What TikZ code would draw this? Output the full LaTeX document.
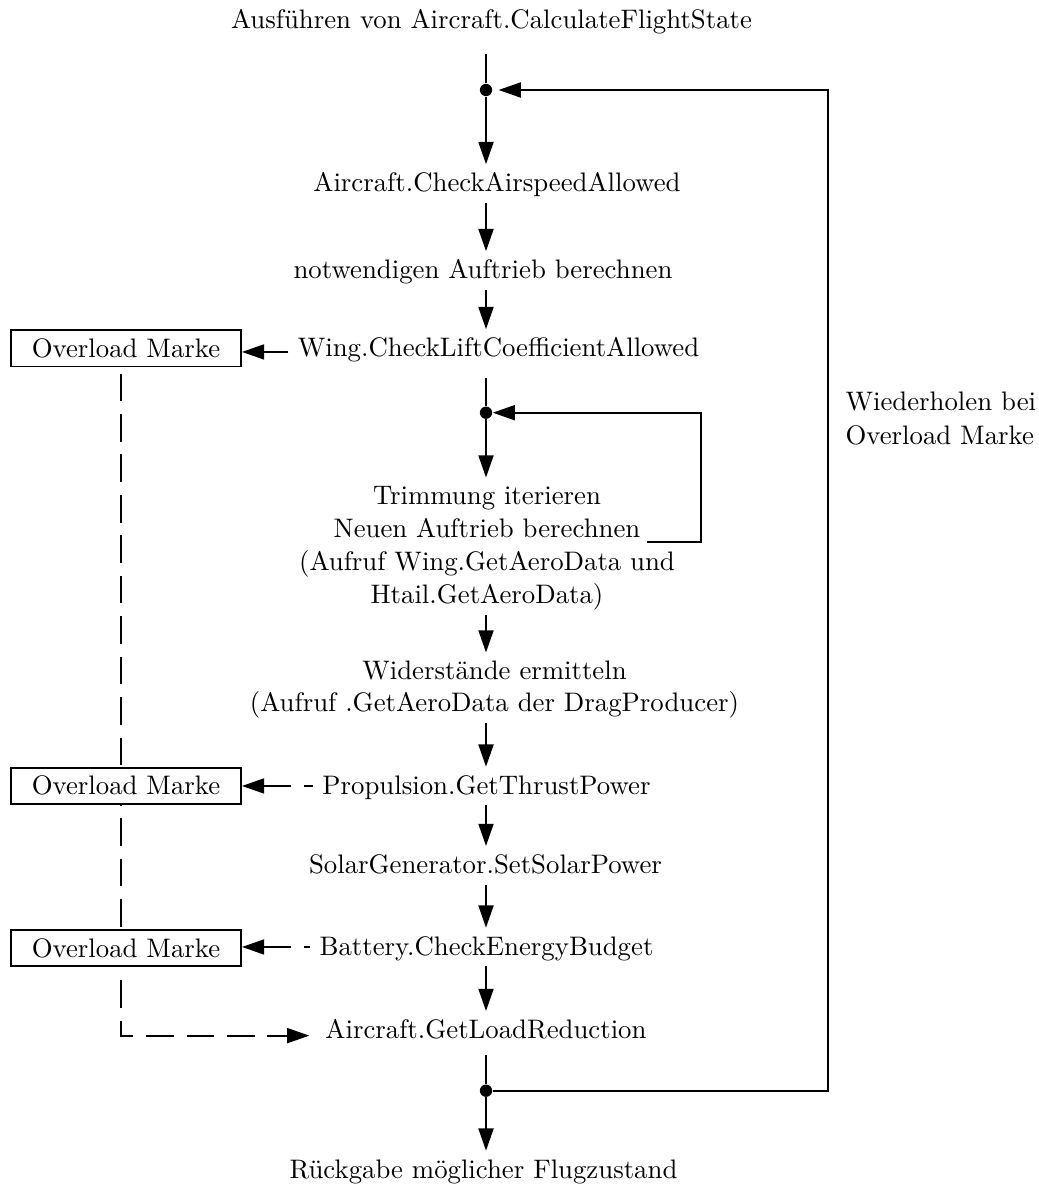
\documentclass[tikz,border=0pt]{standalone}
\usepackage{fontspec}
\usetikzlibrary{arrows.meta,backgrounds}
\newcommand\myStrutA{\rule{0pt}{10pt}}
\newcommand\myStrutB{\rule[-4pt]{0pt}{4pt}}
\begin{document}
\begin{tikzpicture}[x=0.3734pt,y=-0.3734pt,
  lw/.style={line width=0.7pt},
  txt/.style={inner xsep=3.33pt,inner ysep=0pt,text height=10pt,text depth=4pt,anchor=base},
  mtxt/.style={inner xsep=3.33pt,inner ysep=0pt,align=center,anchor=north},
  markbox/.style={draw,lw,fill=white,minimum width=85.9pt,minimum height=13.6pt,inner sep=0pt},
  dotnode/.style={circle,fill,inner sep=0pt,minimum size=4.6pt},
  tip/.style={Triangle[length=8.3pt,width=5.6pt]},
  flow/.style={lw,-{Triangle[length=8.3pt,width=5.6pt]}},
  plain/.style={lw},
  dasharr/.style={lw,dash pattern=on 10.3pt off 4.8pt,{Triangle[length=8.3pt,width=5.6pt]}-},
  dashline/.style={lw,dash pattern=on 10.3pt off 4.8pt,dash phase=12.8pt,-{Triangle[length=8.3pt,width=5.6pt]}},
]
\useasboundingbox (0,0) rectangle (1038,1185);
\coordinate (ax) at (486,0);
\coordinate (rx) at (828,0);
\coordinate (ix) at (701,0);

\node[txt] (title) at (491.5,29) {Ausführen von Aircraft.CalculateFlightState};
\node[dotnode] (d1) at (486,90) {};
\node[txt] (chk) at (497,191.5) {Aircraft.CheckAirspeedAllowed};
\node[txt] (notw) at (483,278.5) {notwendigen Auftrieb berechnen};
\node[txt] (wing) at (498.5,356.5) {Wing.CheckLiftCoefficientAllowed};
\node[markbox] (m1) at (126,348.3) {Overload Marke};
\node[dotnode] (d2) at (486,412.7) {};
\node[mtxt] (trim) at (487,477.5) {\myStrutA Trimmung iterieren\\[0.3pt]Neuen Auftrieb berechnen\\[0.3pt](Aufruf Wing.GetAeroData und\\[0.3pt]Htail.GetAeroData)\myStrutB};
\coordinate (loopstart) at (647.3,541.7);
\node[mtxt] (wid) at (494.5,652.5) {\myStrutA Widerstände ermitteln\\(Aufruf .GetAeroData der DragProducer)\myStrutB};
\node[txt] (prop) at (486.5,794) {Propulsion.GetThrustPower};
\node[markbox] (m2) at (126,785.8) {Overload Marke};
\node[txt] (solar) at (485.5,873.3) {SolarGenerator.SetSolarPower};
\node[txt] (batt) at (486.5,955) {Battery.CheckEnergyBudget};
\node[markbox] (m3) at (126,948) {Overload Marke};
\node[txt] (load) at (486,1038.3) {Aircraft.GetLoadReduction};
\node[dotnode] (d3) at (486,1090.7) {};
\node[txt] (ret) at (483.5,1178) {Rückgabe möglicher Flugzustand};
\node[anchor=north west,inner sep=0pt,align=left] (rep) at (845,383) {\myStrutA Wiederholen bei\\[0.7pt]Overload Marke};

% main flow
\draw[plain,shorten <=5pt] (title.south -| ax) -- (d1);
\draw[flow] (d1) -- (chk.north -| ax);
\draw[flow] (chk.south -| ax) -- (notw.north -| ax);
\draw[flow] (notw.south -| ax) -- (wing.north -| ax);
\draw[plain,shorten <=3.7pt] (wing.south -| ax) -- (d2);
\draw[flow] (d2) -- (trim.north -| ax);
\draw[flow] (trim.south -| ax) -- (wid.north -| ax);
\draw[flow] (wid.south -| ax) -- (prop.north -| ax);
\draw[flow] (prop.south -| ax) -- (solar.north -| ax);
\draw[flow] (solar.south -| ax) -- (batt.north -| ax);
\draw[flow] (batt.south -| ax) -- (load.north -| ax);
\draw[plain,shorten <=2.2pt] (load.south -| ax) -- (d3);
\draw[flow] (d3) -- (ret.north -| ax);

% loops
\draw[flow,shorten >=2.2pt] (d3) -- (d3 -| rx) -- (d1 -| rx) -- (d1);
\draw[flow] (loopstart) -- (loopstart -| ix) -- (d2 -| ix) -- (d2);

% overload arrows
\coordinate (w1) at ([yshift=-1.3pt]wing.west);
\draw[flow] (w1) -- (m1.east |- w1);
\draw[dasharr] (m2.east |- prop.west) -- (prop.west);
\draw[dasharr] (m3.east |- batt.west) -- (batt.west);

\begin{scope}[on background layer]
\coordinate (lw1) at ([yshift=-2pt]load.west);
\draw[dashline,shorten >=2.5pt] ([xshift=-2pt]m1.south) |- (lw1);
\end{scope}
\end{tikzpicture}
\end{document}
